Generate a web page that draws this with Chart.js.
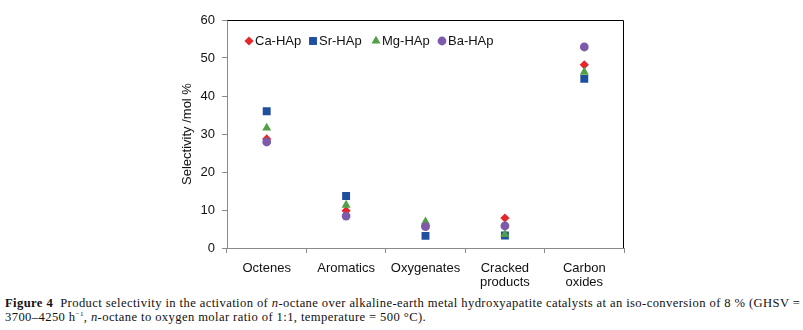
<!DOCTYPE html>
<html>
<head>
<meta charset="utf-8">
<script src="https://cdn.jsdelivr.net/npm/chart.js@4"></script>
<style>
  html, body { margin: 0; padding: 0; background: #fff; }
  #wrap { position: absolute; left: 0; top: 0; width: 803px; height: 292px; }
  .cap { position: absolute; left: 5px; top: 296px; font-family: "Liberation Serif", serif; font-size: 12.6px; letter-spacing: 0.4px; line-height: 14px; color: #111; white-space: nowrap; }
  .cap sup { font-size: 7px; line-height: 0; }
</style>
</head>
<body>
<div id="wrap"><canvas id="c"></canvas></div>
<div class="cap"><b>Figure 4</b>&nbsp; Product selectivity in the activation of <i>n</i>-octane over alkaline-earth metal hydroxyapatite catalysts at an iso-conversion of 8 % (GHSV =<br>3700–4250 h<sup>−1</sup>, <i>n</i>-octane to oxygen molar ratio of 1:1, temperature = 500 °C).</div>
<script>
const categories = ['Octenes', 'Aromatics', 'Oxygenates', ['Cracked', 'products'], ['Carbon', 'oxides']];
const seriesNames = ['Ca-HAp', 'Sr-HAp', 'Mg-HAp', 'Ba-HAp'];
const caHAp = [28.7, 9.8, 5.9, 7.9, 48.2];
const srHAp = [36.0, 13.7, 3.2, 3.3, 44.5];
const mgHAp = [31.6, 11.3, 6.9, 3.6, 46.3];
const baHAp = [27.9, 8.4, 5.6, 5.8, 52.9];
const yMin = 0, yMax = 60, yStep = 10;
const yTitle = 'Selectivity /mol %';

const colors = ['#e5262b', '#1f4f9f', '#52a046', '#7d5bab'];
const styles = ['rectRot', 'rect', 'triangle', 'circle'];
const radii = [4.6, 5.6, 5.2, 4.4];
const values = [caHAp, srHAp, mgHAp, baHAp];
const FONT = '"Liberation Sans", Arial, sans-serif';

const datasets = values.map((v, i) => ({
  label: seriesNames[i],
  data: v,
  showLine: false,
  pointStyle: styles[i],
  pointRadius: radii[i],
  pointHoverRadius: radii[i],
  backgroundColor: colors[i],
  borderColor: colors[i],
  borderWidth: 0,
  order: 4 - i
}));

const framePlugin = {
  id: 'frame',
  afterDraw(chart) {
    const { ctx, chartArea: a } = chart;
    ctx.save();
    ctx.strokeStyle = '#000';
    ctx.lineWidth = 1;
    ctx.beginPath();
    ctx.moveTo(Math.round(a.left) + 0.5, Math.round(a.top) + 0.5);
    ctx.lineTo(Math.round(a.right) - 0.5, Math.round(a.top) + 0.5);
    ctx.lineTo(Math.round(a.right) - 0.5, Math.round(a.bottom));
    ctx.stroke();
    // y title
    ctx.fillStyle = '#111';
    ctx.font = '13px ' + FONT;
    ctx.textAlign = 'center';
    ctx.textBaseline = 'middle';
    ctx.translate(187, (a.top + a.bottom) / 2);
    ctx.rotate(-Math.PI / 2);
    ctx.fillText(yTitle, 0, 0);
    ctx.restore();
    // legend
    ctx.save();
    ctx.font = '13px ' + FONT;
    ctx.textBaseline = 'middle';
    ctx.textAlign = 'left';
    const ly = 41;
    const xs = [249, 313, 376, 442];
    seriesNames.forEach((n, i) => {
      const x = xs[i];
      ctx.fillStyle = colors[i];
      ctx.beginPath();
      const r = radii[i];
      if (styles[i] === 'rectRot') {
        ctx.moveTo(x, ly - r); ctx.lineTo(x + r, ly); ctx.lineTo(x, ly + r); ctx.lineTo(x - r, ly);
      } else if (styles[i] === 'rect') {
        const s = r * Math.SQRT1_2; ctx.rect(x - s, ly - s, 2 * s, 2 * s);
      } else if (styles[i] === 'triangle') {
        ctx.moveTo(x, ly - r); ctx.lineTo(x + r * 0.87, ly + r * 0.5); ctx.lineTo(x - r * 0.87, ly + r * 0.5);
      } else {
        ctx.arc(x, ly, r, 0, Math.PI * 2);
      }
      ctx.closePath();
      ctx.fill();
      ctx.fillStyle = '#111';
      ctx.fillText(n, x + 6, ly);
    });
    ctx.restore();
  }
};

new Chart(document.getElementById('c'), {
  type: 'line',
  data: { labels: categories, datasets },
  plugins: [framePlugin],
  options: {
    responsive: true,
    maintainAspectRatio: false,
    animation: false,
    events: [],
    layout: { padding: { left: 0, right: 179, top: 20, bottom: 0 } },
    plugins: { legend: { display: false }, tooltip: { enabled: false } },
    scales: {
      x: {
        offset: true,
        afterFit(s) { s.height = 44; },
        grid: { drawOnChartArea: false, offset: true, tickLength: 5, color: '#8a8a8a' },
        border: { color: '#8a8a8a' },
        ticks: { color: '#111', font: { family: FONT, size: 13, lineHeight: 1.1 }, padding: 8, maxRotation: 0, autoSkip: false }
      },
      y: {
        min: yMin, max: yMax,
        afterFit(s) { s.width = 227; },
        grid: { drawOnChartArea: false, tickLength: 5, color: '#8a8a8a' },
        border: { color: '#8a8a8a' },
        ticks: { stepSize: yStep, color: '#111', font: { family: FONT, size: 13 }, padding: 7 }
      }
    }
  }
});
</script>
</body>
</html>
